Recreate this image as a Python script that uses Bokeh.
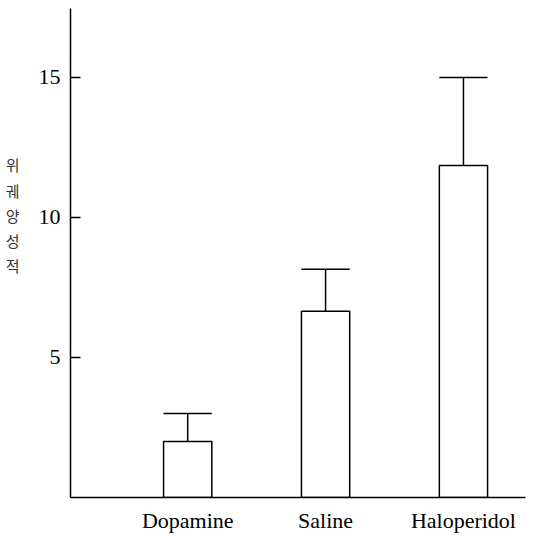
from bokeh.plotting import figure
from bokeh.models import Range1d, FixedTicker
from bokeh.embed import file_html
from bokeh.resources import INLINE

# ---- data ----
categories = ["Dopamine", "Saline", "Haloperidol"]
means = [2.0, 6.65, 11.85]
upper = [3.0, 8.15, 15.0]
y_ticks = [5, 10, 15]
y_label_chars = ["위", "궤", "양", "성", "적"]

xs = list(range(1, len(categories) + 1))
bar_w = 0.35
serif = "Liberation Serif"

p = figure(width=533, height=536, output_backend="svg", toolbar_location=None,
           x_range=Range1d(0.15, 3.45), y_range=Range1d(0, 17.46),
           min_border_left=70, min_border_right=8, min_border_top=8,
           min_border_bottom=39)
p.outline_line_color = None
p.grid.visible = False
p.background_fill_color = "white"

p.vbar(x=xs, top=means, bottom=0, width=bar_w, fill_color="white",
       line_color="black", line_width=1.5)
p.segment(x0=xs, y0=means, x1=xs, y1=upper, line_color="black", line_width=1.5)
p.segment(x0=[x - bar_w / 2 for x in xs], y0=upper,
          x1=[x + bar_w / 2 for x in xs], y1=upper,
          line_color="black", line_width=1.5)

# y axis
ya = p.yaxis[0]
ya.ticker = FixedTicker(ticks=y_ticks)
ya.major_tick_in = 10
ya.major_tick_out = 0
ya.minor_tick_line_color = None
ya.axis_line_width = 1.5
ya.major_tick_line_width = 1.5
ya.major_label_standoff = 10
ya.major_label_text_font = serif
ya.major_label_text_font_size = "22px"
ya.major_label_text_color = "black"
# vertical Korean title: one character per line (blank lines lift it above centre)
ya.axis_label = "\n".join(y_label_chars + ["\u00a0"] * 3)
ya.axis_label_orientation = "horizontal"
ya.axis_label_standoff = 16
ya.axis_label_text_font = "Noto Sans CJK KR"
ya.axis_label_text_font_style = "normal"
ya.axis_label_text_font_size = "15px"
ya.axis_label_text_line_height = 1.2
ya.axis_label_text_color = "#333333"

# x axis
xa = p.xaxis[0]
xa.ticker = FixedTicker(ticks=xs)
xa.major_label_overrides = {x: c for x, c in zip(xs, categories)}
xa.major_tick_line_color = None
xa.minor_tick_line_color = None
xa.axis_line_width = 1.5
xa.major_label_standoff = 4
xa.major_label_text_font = serif
xa.major_label_text_font_size = "22px"
xa.major_label_text_color = "black"

open("out.html", "w").write(file_html(p, INLINE))
